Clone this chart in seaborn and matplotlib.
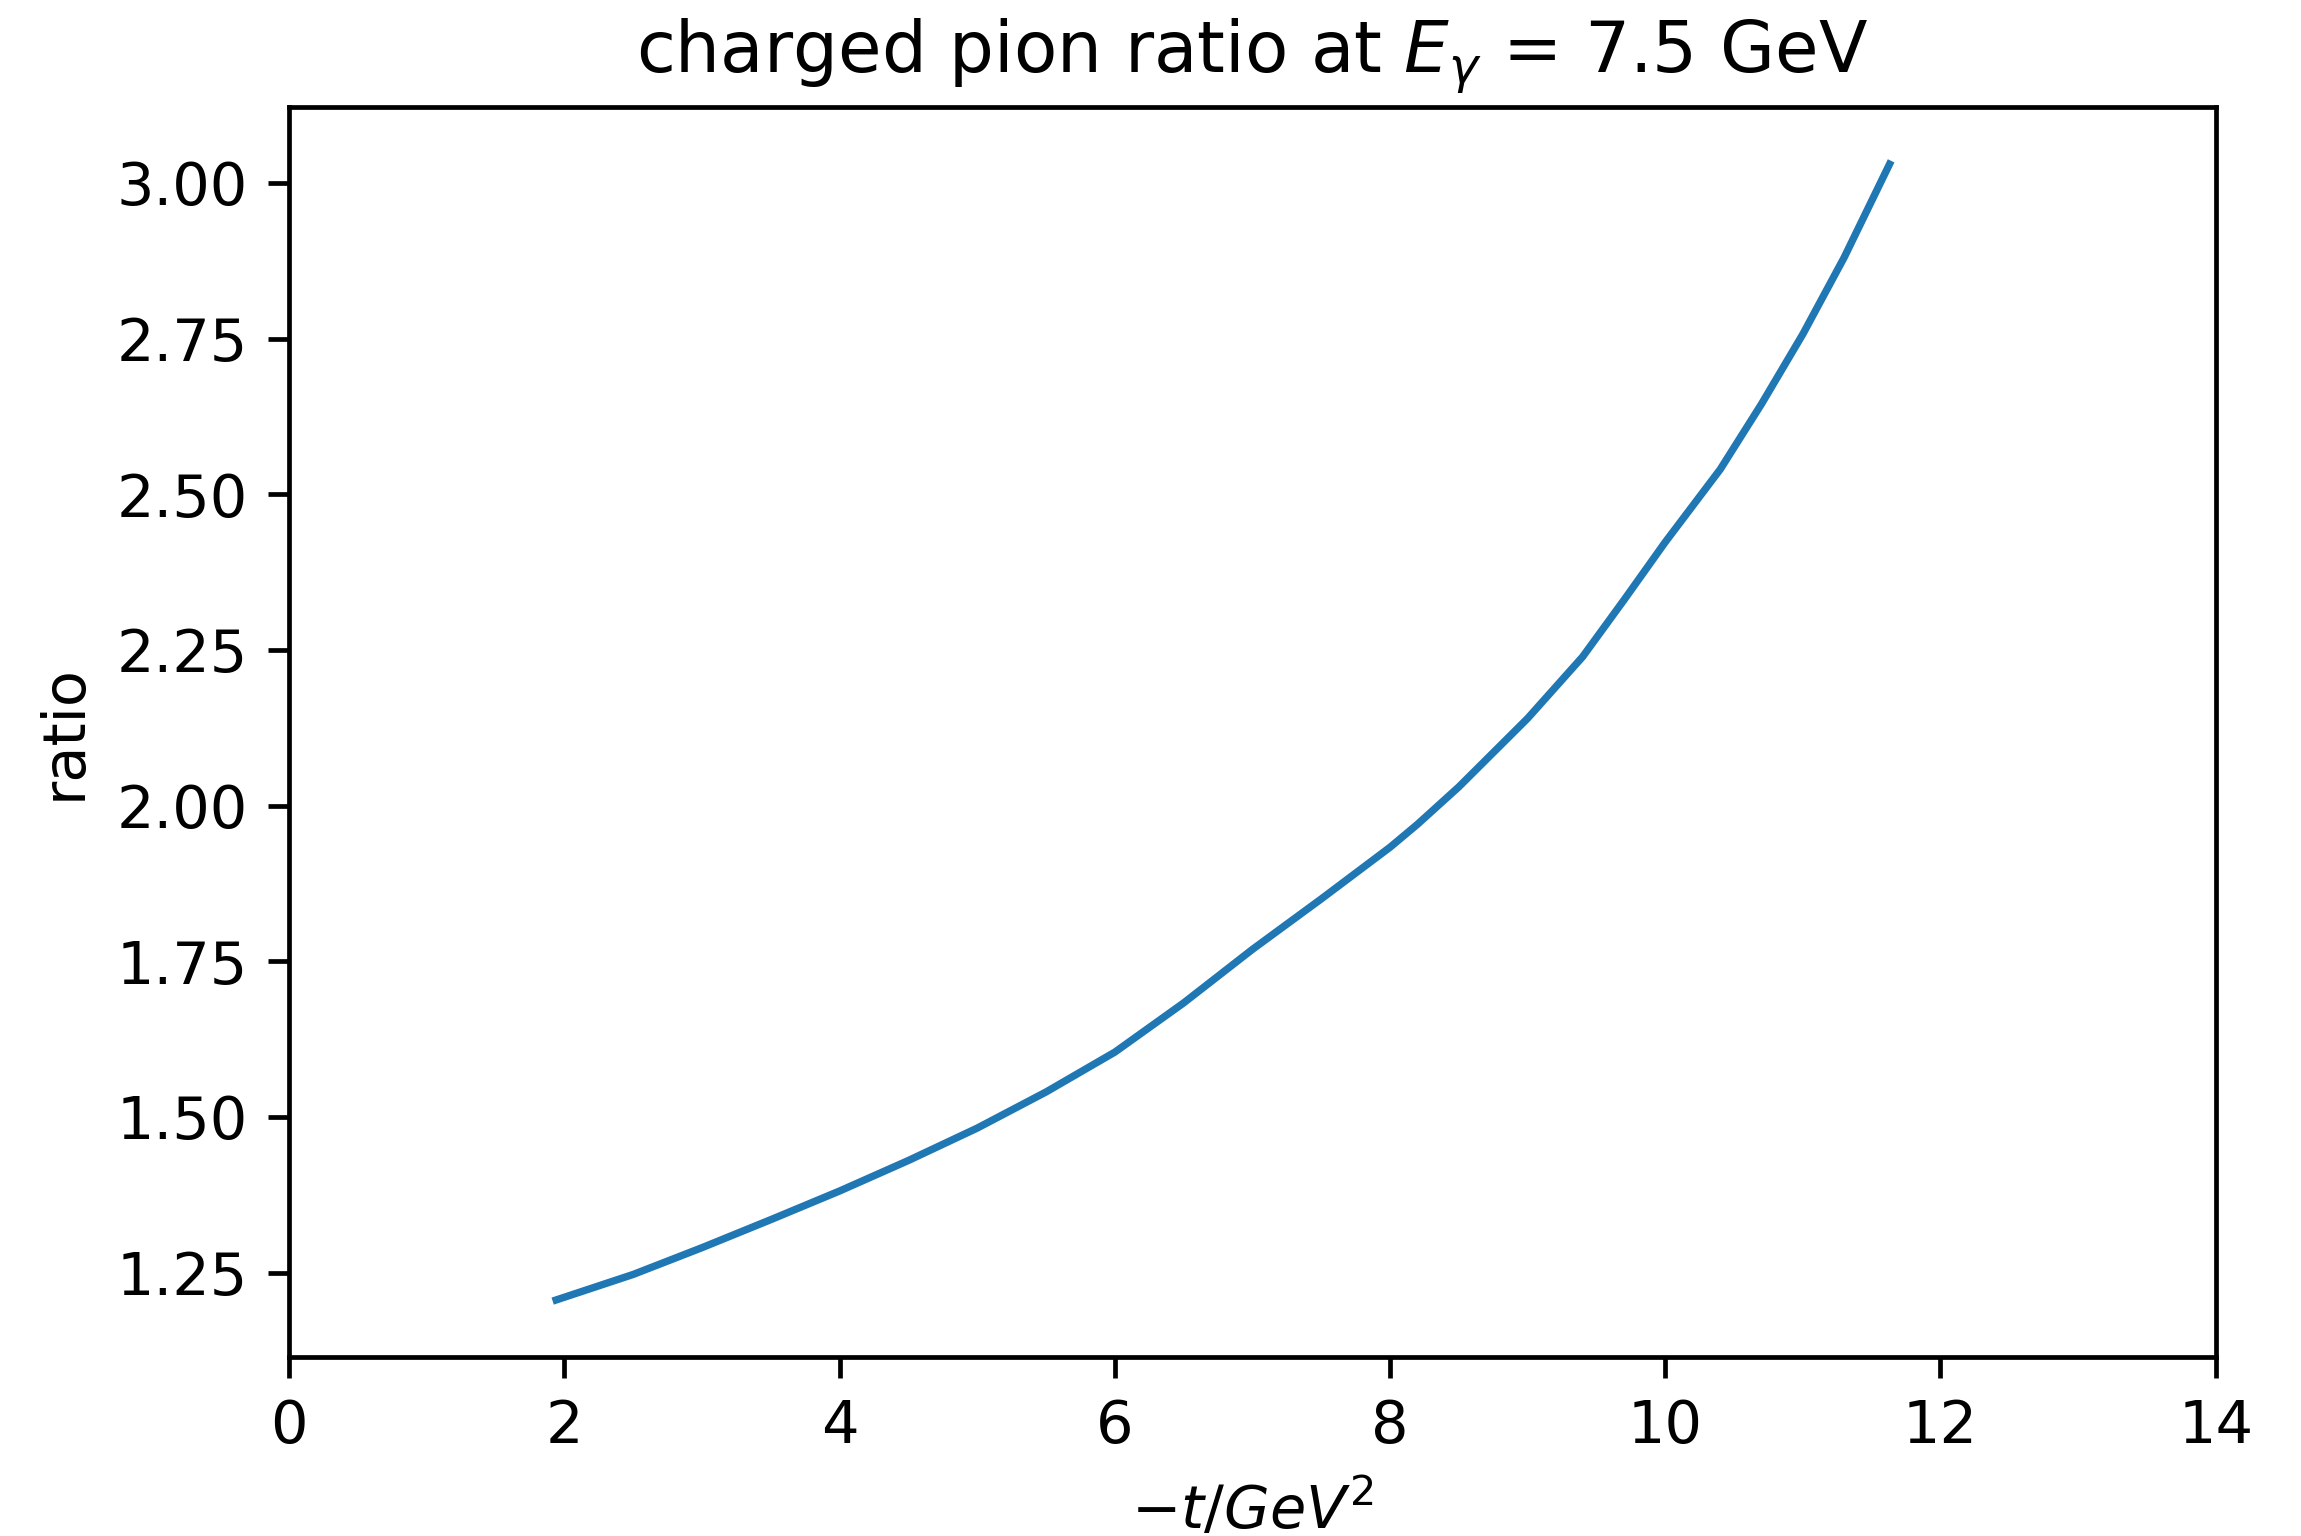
import matplotlib
matplotlib.use('agg')
import matplotlib.pyplot as plt
import pandas as pd
import seaborn as sns

# -t values (GeV^2) and charged pion ratio
t_vals = [1.94, 2.5, 3.0, 3.5, 4.0, 4.5, 5.0, 5.5, 6.0, 6.5, 7.0, 7.5, 8.0, 8.2,
          8.5, 9.0, 9.4, 9.7, 10.0, 10.4, 10.7, 11.0, 11.3, 11.63]
ratio_vals = [1.206, 1.247, 1.290, 1.335, 1.381, 1.43, 1.482, 1.54, 1.604, 1.683,
              1.769, 1.85, 1.933, 1.97, 2.03, 2.14, 2.239, 2.33, 2.423, 2.54,
              2.645, 2.757, 2.88, 3.03]

title = r"charged pion ratio at $E_\gamma$ = 7.5 GeV"
xlabel = r"$-t/GeV^2$"
ylabel = "ratio"
x_ticks = [0, 2, 4, 6, 8, 10, 12, 14]

df = pd.DataFrame({'t': t_vals, 'ratio': ratio_vals})

dpi = 425
fig = plt.figure(figsize=(2301 / dpi, 1536 / dpi), dpi=dpi)
ax = fig.add_axes([0.1257, 0.1167, 0.9629 - 0.1257, 0.9301 - 0.1167])

sns.lineplot(data=df, x='t', y='ratio', ax=ax, color='#1f77b4', linewidth=1.25)

ax.set_xlim(0, 14)
ax.set_xticks(x_ticks)
ax.set_title(title, fontsize=12)
ax.set_xlabel(xlabel, fontsize=10)
ax.set_ylabel(ylabel, fontsize=10)
ax.tick_params(labelsize=10)

fig.savefig('out.png', dpi=dpi)
